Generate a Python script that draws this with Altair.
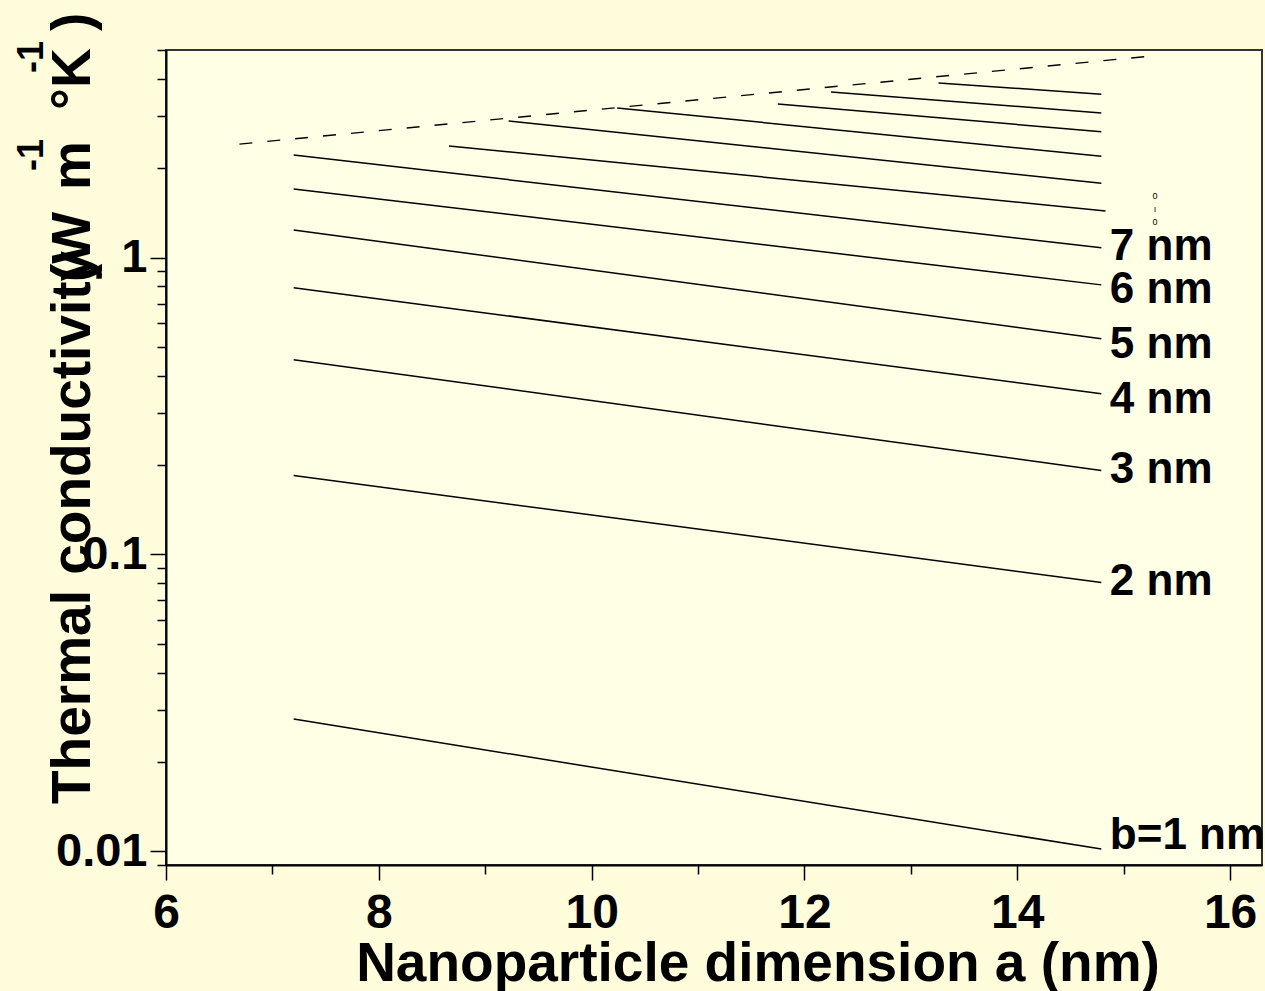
import altair as alt
import pandas as pd

# thickness b (nm) of each curve
b_values = [1, 2, 3, 4, 5, 6, 7, 8, 9, 10, 11, 12, 13]
a_start = [7.2, 7.2, 7.2, 7.2, 7.2, 7.2, 7.2, 8.66, 9.22, 10.24, 11.75, 12.25, 13.26]
a_end = [14.79, 14.79, 14.79, 14.79, 14.79, 14.79, 14.79, 14.83, 14.79, 14.79, 14.79, 14.79, 14.79]
k_start = [0.0279, 0.1844, 0.453, 0.791, 1.239, 1.703, 2.215, 2.376, 2.884, 3.19, 3.29, 3.61, 3.87]
k_end = [0.01018, 0.0805, 0.1918, 0.348, 0.533, 0.809, 1.078, 1.436, 1.779, 2.193, 2.653, 3.07, 3.55]

# dashed limit line
limit_a = [6.69, 15.28]
limit_k = [2.41, 4.78]

# curve labels
label_text = ["b=1 nm", "2 nm", "3 nm", "4 nm", "5 nm", "6 nm", "7 nm"]
label_a = [14.87, 14.87, 14.87, 14.87, 14.87, 14.87, 14.87]
label_k = [0.01125, 0.0805, 0.193, 0.332, 0.5085, 0.779, 1.086]

x_ticks = [6, 7, 8, 9, 10, 11, 12, 13, 14, 15, 16]
y_ticks = [0.009, 0.01, 0.02, 0.03, 0.04, 0.05, 0.06, 0.07, 0.08, 0.09,
           0.1, 0.2, 0.3, 0.4, 0.5, 0.6, 0.7, 0.8, 0.9, 1, 2, 3, 4, 5]

rows = []
for i, b in enumerate(b_values):
    rows.append({"b": b, "a": a_start[i], "k": k_start[i], "seq": 0})
    rows.append({"b": b, "a": a_end[i], "k": k_end[i], "seq": 1})
df_lines = pd.DataFrame(rows)
df_limit = pd.DataFrame({"a": limit_a, "k": limit_k})
df_labels = pd.DataFrame({"a": label_a, "k": label_k, "t": label_text})
one = pd.DataFrame({"z": [0]})

FONT = "Liberation Sans"

y_major = "datum.value == 0.01 || datum.value == 0.1 || datum.value == 1"

X = alt.X(
    "a:Q",
    scale=alt.Scale(domain=[6, 16.3], nice=False, zero=False),
    axis=alt.Axis(
        title=None, values=x_ticks, format="d",
        labelExpr="datum.value % 2 === 0 ? datum.label : ''",
        tickSize={"condition": {"test": "datum.value % 2 === 0", "value": 15}, "value": 9},
        labelFontSize=48, labelFont=FONT, labelFontWeight="bold", labelColor="black",
        labelPadding=9, labelFlush=False, labelOverlap=False, labelBound=False,
        tickColor="black", tickWidth=1.5, domainColor="black", domainWidth=2,
        grid=False,
    ),
)
Y = alt.Y(
    "k:Q",
    scale=alt.Scale(type="log", domain=[0.009, 5], nice=False),
    axis=alt.Axis(
        title=None, values=y_ticks, format="~g",
        labelExpr=y_major + " ? datum.label : ''",
        tickSize={"condition": {"test": y_major, "value": 16}, "value": 9},
        labelFontSize=47, labelFont=FONT, labelFontWeight="bold", labelColor="black",
        labelPadding=3, labelFlush=False, labelOverlap=False, labelBound=False,
        tickColor="black", tickWidth=1.5, domainColor="black", domainWidth=2,
        grid=False,
    ),
)

lines = alt.Chart(df_lines).mark_line(color="black", strokeWidth=1.5).encode(
    x=X, y=Y, detail="b:N", order="seq:O"
)
limit = alt.Chart(df_limit).mark_line(color="black", strokeWidth=1.4, strokeDash=[13, 15]).encode(
    x=X, y=Y
)
labels = alt.Chart(df_labels).mark_text(
    align="left", baseline="middle", font=FONT, fontWeight="bold", fontSize=44, color="black"
).encode(x=X, y=Y, text="t:N")


def txt(s, x, y, size, angle=0, align="left", baseline="alphabetic"):
    props = dict(text=s, font=FONT, fontWeight="bold", fontSize=size, color="black",
                 align=align, baseline=baseline)
    if angle:
        props["angle"] = angle
    return alt.Chart(one).mark_text(**props).encode(x=alt.value(x), y=alt.value(y))


xtitle = txt("Nanoparticle dimension a (nm)", 592, 931, 55, align="center")
yt_main = txt("Thermal conductivity", -76, 754, 55, angle=270)
yt_w = txt("(W", -76, 232, 55, angle=270)
yt_m = txt("m", -76, 140, 55, angle=270)
yt_s1 = txt("-1", -123, 121, 36, angle=270)
yt_k = txt("°K", -76, 60, 55, angle=270)
yt_s2 = txt("-1", -123, 23, 36, angle=270)
yt_p = txt(")", -76, -19, 55, angle=270)
tiny = alt.Chart(one).mark_text(
    text=["0", "ı", "0"], font=FONT, fontSize=9, color="black", lineHeight=13,
    align="center", baseline="top"
).encode(x=alt.value(989), y=alt.value(142))

chart = alt.layer(
    lines, limit, labels, xtitle, yt_main, yt_w, yt_m, yt_s1, yt_k, yt_s2, yt_p, tiny
).properties(
    width=1096, height=815,
    padding={"left": 166, "top": 50, "right": 3, "bottom": 126},
    autosize=alt.AutoSizeParams(type="none"),
).configure(background="#FEFCDA").configure_view(
    fill="#FFFFE6", stroke="#333333", strokeWidth=2
)

chart.save("out.html", embed_options={"renderer": "svg", "actions": False})
